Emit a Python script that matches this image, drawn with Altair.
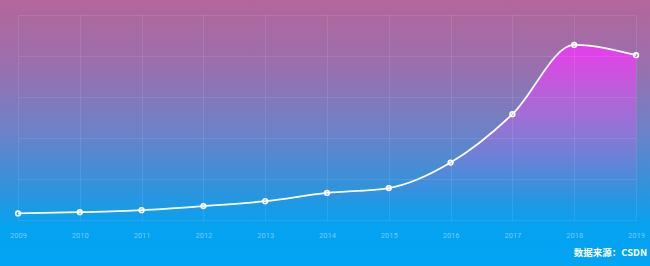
import altair as alt
import pandas as pd

years = ["2009", "2010", "2011", "2012", "2013", "2014", "2015", "2016", "2017", "2018", "2019"]
values = [1.6, 1.9, 2.4, 3.4, 4.6, 6.6, 7.8, 14.0, 25.8, 42.7, 40.2]
source_text = ["数据来源：CSDN"]

df = pd.DataFrame({"year": years, "value": values})

W, H = 618, 205
PL, PT, PR, PB = 18, 15, 14, 46

x_enc = alt.X("year:O", sort=years,
              scale=alt.Scale(type="point", padding=0),
              axis=alt.Axis(title=None, labelAngle=0, domain=False, ticks=False,
                            labelColor="rgba(255,255,255,0.45)", labelFontSize=7.5,
                            labelFont="Roboto", labelPadding=11, zindex=1,
                            grid=True, gridColor="rgba(255,255,255,0.09)", gridWidth=1))
y_enc = alt.Y("value:Q",
              scale=alt.Scale(domain=[0, 50], nice=False),
              axis=alt.Axis(title=None, labels=False, domain=False, ticks=False,
                            values=[0, 10, 20, 30, 40, 50], zindex=1,
                            grid=True, gridColor="rgba(255,255,255,0.09)", gridWidth=1))

bg = alt.Chart(pd.DataFrame({"k": [0]})).mark_rect(
    fill=alt.Gradient(
        gradient="linear", x1=0, x2=0, y1=0, y2=1,
        stops=[
            alt.GradientStop(color="#b3669b", offset=0),
            alt.GradientStop(color="#9a6fae", offset=0.25),
            alt.GradientStop(color="#6b82c8", offset=0.5),
            alt.GradientStop(color="#2d94de", offset=0.72),
            alt.GradientStop(color="#05a2f0", offset=0.85),
            alt.GradientStop(color="#02a4f4", offset=1),
        ],
    ),
    strokeWidth=0,
).encode(
    x=alt.value(-PL), x2=alt.value(W + PR),
    y=alt.value(-PT), y2=alt.value(H + PB),
)

base = alt.Chart(df)

area = base.mark_area(
    interpolate="monotone",
    fill=alt.Gradient(
        gradient="linear", x1=0, x2=0, y1=0, y2=1,
        stops=[
            alt.GradientStop(color="rgba(230,60,236,1)", offset=0),
            alt.GradientStop(color="rgba(200,95,235,0.5)", offset=0.4),
            alt.GradientStop(color="rgba(150,120,230,0)", offset=0.9),
            alt.GradientStop(color="rgba(150,120,230,0)", offset=1),
        ],
    ),
).encode(x=x_enc, y=y_enc)

line = base.mark_line(interpolate="monotone", color="white", strokeWidth=1.8).encode(
    x=x_enc, y=y_enc)

points = base.mark_point(filled=False, stroke="white", strokeWidth=1.6, size=22,
                         opacity=1).encode(x=x_enc, y=y_enc)

src = alt.Chart(pd.DataFrame({"t": source_text})).mark_text(
    align="right", baseline="middle", color="white", fontSize=9.5,
    font="Noto Sans CJK SC", fontWeight="bold",
).encode(x=alt.value(W + PR - 3), y=alt.value(H + 33), text="t:N")

chart = alt.layer(bg, area, line, points, src).properties(
    width=W, height=H,
    padding={"left": PL, "top": PT, "right": PR, "bottom": PB},
    autosize=alt.AutoSizeParams(type="none"),
    background="#03a2f0",
).configure_view(stroke=None)

chart.save("out.html", embed_options={"renderer": "svg", "actions": False})
